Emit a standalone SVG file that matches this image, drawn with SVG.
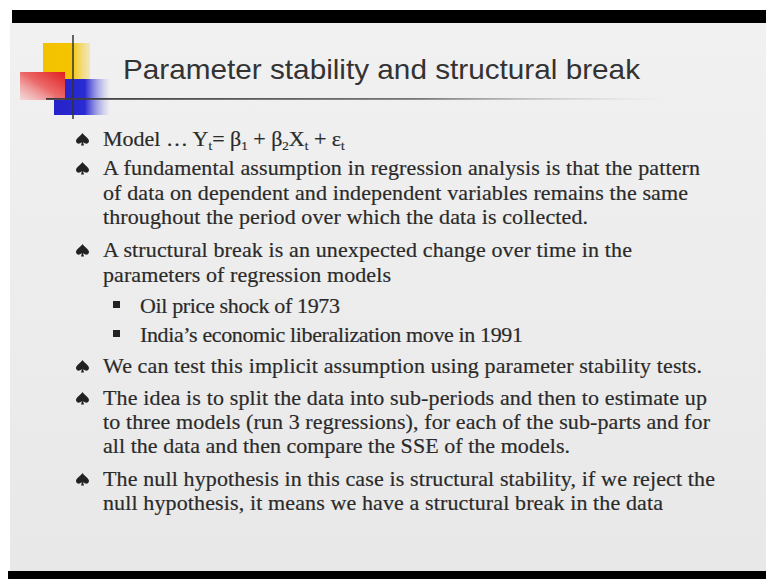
<svg xmlns="http://www.w3.org/2000/svg" width="766" height="579" viewBox="0 0 766 579">
<style>
.body{font-family:"Liberation Serif","Times New Roman",serif;font-size:22px;fill:#2a2a2a;stroke:#2a2a2a;stroke-width:0.2;}
.title{font-family:"Liberation Sans",Arial,sans-serif;font-size:28px;fill:#333333;}
.sub{font-size:13px;}
</style>
<defs>
<linearGradient id="bg" x1="0" y1="0" x2="0" y2="1">
<stop offset="0" stop-color="#f1f1f1"/>
<stop offset="1" stop-color="#e8e8e8"/>
</linearGradient>
<linearGradient id="yel" x1="0" y1="0" x2="1" y2="0">
<stop offset="0" stop-color="#f2c200"/>
<stop offset="0.6" stop-color="#f4c400"/>
<stop offset="1" stop-color="#f4d866" stop-opacity="0.4"/>
</linearGradient>
<linearGradient id="red" x1="1" y1="0" x2="0" y2="1">
<stop offset="0" stop-color="#e01e1e"/>
<stop offset="0.5" stop-color="#ec6a6a"/>
<stop offset="1" stop-color="#f6c8c8" stop-opacity="0.6"/>
</linearGradient>
<linearGradient id="blu" x1="0" y1="0" x2="1" y2="0">
<stop offset="0" stop-color="#2323c8"/>
<stop offset="0.55" stop-color="#2a2ad2"/>
<stop offset="1" stop-color="#8a8ae6" stop-opacity="0"/>
</linearGradient>
<linearGradient id="rule" x1="0" y1="0" x2="1" y2="0">
<stop offset="0" stop-color="#3a3a3a"/>
<stop offset="0.6" stop-color="#777777"/>
<stop offset="1" stop-color="#cccccc" stop-opacity="0"/>
</linearGradient>
<path id="spade" d="M6.5,0 C5,3 0,5 0,8 C0,10 2,11 3.5,10.5 C4.5,10.2 5.5,9.5 6,9 L5,12.5 L8,12.5 L7,9 C7.5,9.5 8.5,10.2 9.5,10.5 C11,11 13,10 13,8 C13,5 8,3 6.5,0 Z" fill="#222222"/>
<rect id="sq" width="7" height="7" fill="#222222"/>
</defs>

<rect x="0" y="0" width="766" height="579" fill="#ffffff"/>
<rect x="12" y="10" width="754" height="13" fill="#000000"/>
<rect x="10" y="23" width="756" height="548" fill="url(#bg)"/>
<rect x="8" y="571" width="758" height="8" fill="#000000"/>

<g id="logo">
<rect x="43" y="43" width="47" height="37" fill="url(#yel)"/>
<rect x="54" y="79" width="56" height="36" fill="url(#blu)"/>
<rect x="20" y="72" width="45" height="28" fill="url(#red)"/>
<line x1="73" y1="35" x2="73" y2="119" stroke="#333333" stroke-width="1.5"/>
<rect x="46" y="98" width="624" height="1.8" fill="url(#rule)"/>
</g>

<g id="title">
<text class="title" x="123" y="79" textLength="517" lengthAdjust="spacingAndGlyphs">Parameter stability and structural break</text>
</g>

<g id="bullets">
<use href="#spade" x="76" y="133"/>
<use href="#spade" x="76" y="162"/>
<use href="#spade" x="76" y="244"/>
<use href="#spade" x="76" y="360"/>
<use href="#spade" x="76" y="392"/>
<use href="#spade" x="76" y="473"/>
<use href="#sq" x="113" y="301"/>
<use href="#sq" x="113" y="330"/>
</g>

<g id="text">
<text class="body" x="103" y="146">Model … Y<tspan class="sub" dy="4">t</tspan><tspan dy="-4">= β</tspan><tspan class="sub" dy="4">1</tspan><tspan dy="-4"> + β</tspan><tspan class="sub" dy="4">2</tspan><tspan dy="-4">X</tspan><tspan class="sub" dy="4">t</tspan><tspan dy="-4"> + ε</tspan><tspan class="sub" dy="4">t</tspan></text>
<text class="body" x="103" y="175" textLength="597">A fundamental assumption in regression analysis is that the pattern</text>
<text class="body" x="103" y="200" textLength="585">of data on dependent and independent variables remains the same</text>
<text class="body" x="103" y="224" textLength="485">throughout the period over which the data is collected.</text>
<text class="body" x="103" y="257" textLength="529">A structural break is an unexpected change over time in the</text>
<text class="body" x="103" y="282" textLength="288">parameters of regression models</text>
<text class="body" x="140" y="313" textLength="200">Oil price shock of 1973</text>
<text class="body" x="140" y="342" textLength="383">India’s economic liberalization move in 1991</text>
<text class="body" x="103" y="373" textLength="599">We can test this implicit assumption using parameter stability tests.</text>
<text class="body" x="103" y="405" textLength="604">The idea is to split the data into sub-periods and then to estimate up</text>
<text class="body" x="103" y="429" textLength="607">to three models (run 3 regressions), for each of the sub-parts and for</text>
<text class="body" x="103" y="453" textLength="467">all the data and then compare the SSE of the models.</text>
<text class="body" x="103" y="486" textLength="612">The null hypothesis in this case is structural stability, if we reject the</text>
<text class="body" x="103" y="510" textLength="560">null hypothesis, it means we have a structural break in the data</text>
</g>
</svg>
